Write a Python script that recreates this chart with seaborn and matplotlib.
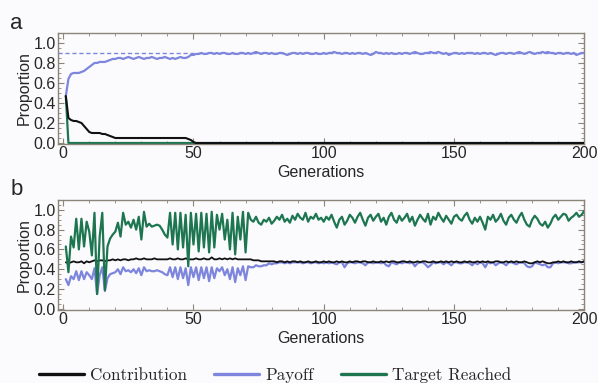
import numpy as np
import pandas as pd
import seaborn as sns
import matplotlib.pyplot as plt
from matplotlib.ticker import MultipleLocator

# colours
BG_COLOR = "#fbfbfd"
BLACK = "#111111"
BLUE = "#7d86dc"
GREEN = "#1d7650"
FRAME = "#8c8478"

generations = list(range(1, 201))

# panel a
contrib_a_gen = list(range(1, 52)) + [200]
contrib_a = [0.47, 0.25, 0.23, 0.22, 0.22, 0.21, 0.20, 0.17, 0.14, 0.11,
             0.10, 0.10, 0.10, 0.10, 0.09, 0.09, 0.08, 0.07, 0.06, 0.05,
             0.05, 0.05, 0.05, 0.05, 0.05, 0.05, 0.05, 0.05, 0.05, 0.05,
             0.05, 0.05, 0.05, 0.05, 0.05, 0.05, 0.05, 0.05, 0.05, 0.05,
             0.05, 0.05, 0.05, 0.05, 0.05, 0.05, 0.05, 0.04, 0.03, 0.01,
             0.0, 0.0]
target_a_gen = [1, 2, 200]
target_a = [0.47, 0.0, 0.0]
payoff_a = [0.47, 0.64, 0.69, 0.70, 0.70, 0.70, 0.71, 0.72, 0.74, 0.76,
            0.78, 0.80, 0.80, 0.81, 0.81, 0.81, 0.82, 0.83, 0.84, 0.84,
            0.85, 0.85, 0.84, 0.85, 0.86, 0.85, 0.84, 0.85, 0.86, 0.85,
            0.84, 0.85, 0.85, 0.86, 0.85, 0.84, 0.85, 0.85, 0.86, 0.85,
            0.84, 0.85, 0.84, 0.85, 0.86, 0.85, 0.85, 0.86, 0.88, 0.88,
            0.89, 0.89, 0.90, 0.89, 0.89, 0.90, 0.90, 0.89, 0.90, 0.89,
            0.90, 0.90, 0.89, 0.89, 0.90, 0.89, 0.89, 0.90, 0.90, 0.89,
            0.90, 0.89, 0.90, 0.91, 0.90, 0.89, 0.90, 0.90, 0.89, 0.90,
            0.89, 0.89, 0.90, 0.90, 0.89, 0.88, 0.89, 0.90, 0.90, 0.89,
            0.90, 0.89, 0.90, 0.90, 0.89, 0.89, 0.90, 0.89, 0.89, 0.90,
            0.89, 0.90, 0.90, 0.91, 0.90, 0.90, 0.89, 0.90, 0.90, 0.89,
            0.90, 0.89, 0.90, 0.90, 0.89, 0.90, 0.89, 0.88, 0.89, 0.91,
            0.90, 0.90, 0.89, 0.90, 0.89, 0.90, 0.89, 0.89, 0.90, 0.89,
            0.90, 0.90, 0.89, 0.90, 0.91, 0.90, 0.89, 0.89, 0.90, 0.90,
            0.91, 0.90, 0.90, 0.91, 0.90, 0.89, 0.90, 0.88, 0.89, 0.90,
            0.90, 0.89, 0.90, 0.89, 0.90, 0.90, 0.90, 0.89, 0.90, 0.89,
            0.90, 0.90, 0.89, 0.90, 0.89, 0.88, 0.89, 0.90, 0.90, 0.89,
            0.90, 0.90, 0.89, 0.90, 0.91, 0.90, 0.89, 0.90, 0.91, 0.90,
            0.89, 0.90, 0.90, 0.91, 0.90, 0.91, 0.90, 0.90, 0.89, 0.90,
            0.90, 0.89, 0.90, 0.90, 0.89, 0.90, 0.88, 0.89, 0.90, 0.90]
optimum_a = 0.9

# panel b
contrib_b = [0.47, 0.46, 0.47, 0.48, 0.47, 0.47, 0.48, 0.46, 0.48, 0.47,
             0.48, 0.49, 0.48, 0.49, 0.49, 0.48, 0.49, 0.49, 0.50, 0.49,
             0.50, 0.49, 0.50, 0.50, 0.49, 0.50, 0.50, 0.51, 0.50, 0.50,
             0.51, 0.50, 0.50, 0.50, 0.51, 0.50, 0.50, 0.50, 0.50, 0.50,
             0.51, 0.50, 0.50, 0.51, 0.50, 0.50, 0.51, 0.50, 0.50, 0.50,
             0.51, 0.50, 0.50, 0.51, 0.50, 0.50, 0.52, 0.50, 0.50, 0.51,
             0.50, 0.51, 0.50, 0.51, 0.50, 0.51, 0.50, 0.50, 0.50, 0.50,
             0.50, 0.50, 0.49, 0.49, 0.49, 0.48, 0.48, 0.48, 0.48, 0.48,
             0.48, 0.47, 0.48, 0.48, 0.47, 0.48, 0.47, 0.48, 0.48, 0.47,
             0.48, 0.47, 0.47, 0.48, 0.47, 0.47, 0.48, 0.47, 0.47, 0.48,
             0.47, 0.48, 0.47, 0.47, 0.48, 0.47, 0.48, 0.47, 0.47, 0.48,
             0.47, 0.48, 0.48, 0.47, 0.48, 0.48, 0.47, 0.47, 0.48, 0.47,
             0.47, 0.48, 0.47, 0.48, 0.47, 0.48, 0.48, 0.47, 0.47, 0.48,
             0.48, 0.47, 0.48, 0.47, 0.47, 0.48, 0.47, 0.48, 0.48, 0.47,
             0.47, 0.48, 0.47, 0.47, 0.48, 0.47, 0.48, 0.47, 0.48, 0.47,
             0.48, 0.47, 0.47, 0.48, 0.47, 0.48, 0.47, 0.47, 0.48, 0.47,
             0.48, 0.47, 0.48, 0.47, 0.47, 0.48, 0.48, 0.47, 0.47, 0.48,
             0.47, 0.48, 0.47, 0.48, 0.47, 0.47, 0.48, 0.47, 0.46, 0.46,
             0.47, 0.48, 0.47, 0.48, 0.47, 0.46, 0.46, 0.47, 0.47, 0.48,
             0.47, 0.48, 0.47, 0.47, 0.48, 0.47, 0.47, 0.48, 0.47, 0.48]
payoff_b = [0.30, 0.24, 0.33, 0.30, 0.38, 0.29, 0.38, 0.30, 0.37, 0.34,
            0.30, 0.41, 0.15, 0.34, 0.42, 0.18, 0.31, 0.35, 0.36, 0.37,
            0.40, 0.35, 0.42, 0.38, 0.39, 0.37, 0.40, 0.36, 0.41, 0.34,
            0.42, 0.38, 0.39, 0.38, 0.38, 0.39, 0.38, 0.37, 0.35, 0.34,
            0.42, 0.32, 0.42, 0.30, 0.42, 0.31, 0.41, 0.24, 0.42, 0.32,
            0.42, 0.29, 0.42, 0.31, 0.42, 0.28, 0.42, 0.31, 0.41, 0.38,
            0.42, 0.34, 0.40, 0.30, 0.42, 0.27, 0.41, 0.34, 0.43, 0.29,
            0.43, 0.42, 0.42, 0.44, 0.43, 0.43, 0.44, 0.44, 0.46, 0.45,
            0.46, 0.46, 0.47, 0.47, 0.46, 0.47, 0.46, 0.47, 0.47, 0.47,
            0.47, 0.46, 0.47, 0.47, 0.46, 0.47, 0.47, 0.46, 0.47, 0.46,
            0.47, 0.46, 0.47, 0.46, 0.45, 0.47, 0.47, 0.42, 0.46, 0.47,
            0.47, 0.46, 0.47, 0.47, 0.46, 0.44, 0.47, 0.47, 0.46, 0.47,
            0.47, 0.46, 0.47, 0.44, 0.43, 0.47, 0.46, 0.45, 0.47, 0.46,
            0.47, 0.47, 0.46, 0.47, 0.43, 0.46, 0.47, 0.47, 0.45, 0.42,
            0.44, 0.47, 0.46, 0.47, 0.47, 0.45, 0.47, 0.46, 0.44, 0.47,
            0.47, 0.46, 0.46, 0.47, 0.47, 0.46, 0.44, 0.47, 0.45, 0.47,
            0.46, 0.42, 0.47, 0.46, 0.47, 0.44, 0.46, 0.47, 0.46, 0.44,
            0.47, 0.47, 0.46, 0.45, 0.47, 0.47, 0.46, 0.43, 0.42, 0.43,
            0.47, 0.46, 0.45, 0.44, 0.45, 0.42, 0.42, 0.46, 0.47, 0.46,
            0.47, 0.47, 0.47, 0.46, 0.46, 0.47, 0.47, 0.47, 0.47, 0.48]
target_b = [0.63, 0.37, 0.73, 0.62, 0.91, 0.60, 0.91, 0.63, 0.88, 0.78,
            0.54, 0.97, 0.15, 0.73, 0.97, 0.19, 0.63, 0.71, 0.75, 0.78,
            0.87, 0.73, 0.97, 0.85, 0.88, 0.82, 0.90, 0.80, 0.93, 0.70,
            0.98, 0.83, 0.86, 0.83, 0.84, 0.85, 0.84, 0.80, 0.75, 0.72,
            0.97, 0.65, 0.97, 0.60, 0.97, 0.62, 0.95, 0.43, 0.97, 0.65,
            0.96, 0.58, 0.97, 0.62, 0.96, 0.57, 0.98, 0.62, 0.95, 0.80,
            0.96, 0.70, 0.90, 0.60, 0.97, 0.55, 0.93, 0.70, 0.98, 0.57,
            0.97, 0.90, 0.88, 0.93, 0.87, 0.85, 0.90, 0.88, 0.92, 0.86,
            0.89, 0.93, 0.90, 0.95, 0.88, 0.91, 0.87, 0.94, 0.90, 0.96,
            0.92, 0.90, 0.97, 0.88, 0.93, 0.91, 0.96, 0.90, 0.92, 0.88,
            0.93, 0.90, 0.95, 0.88, 0.82, 0.90, 0.93, 0.85, 0.89, 0.95,
            0.92, 0.87, 0.93, 0.97, 0.90, 0.84, 0.92, 0.95, 0.89, 0.93,
            0.96, 0.88, 0.92, 0.85, 0.93, 0.97, 0.90, 0.87, 0.94, 0.89,
            0.92, 0.96, 0.88, 0.93, 0.84, 0.90, 0.95, 0.91, 0.88, 0.96,
            0.85, 0.93, 0.90, 0.97, 0.92, 0.88, 0.94, 0.90, 0.86, 0.93,
            0.95, 0.91, 0.89, 0.94, 0.97, 0.90, 0.86, 0.92, 0.88, 0.93,
            0.87, 0.80, 0.93, 0.90, 0.95, 0.88, 0.91, 0.96, 0.89, 0.85,
            0.92, 0.95, 0.90, 0.87, 0.93, 0.97, 0.90, 0.85, 0.83, 0.90,
            0.94, 0.91, 0.86, 0.84, 0.88, 0.82, 0.86, 0.92, 0.95, 0.90,
            0.93, 0.96, 0.95, 0.89, 0.92, 0.94, 0.97, 0.93, 0.95, 0.99]

sns.set_style("ticks")
plt.rcParams['font.family'] = ['Liberation Sans', 'DejaVu Sans']
plt.rcParams['xtick.direction'] = 'in'
plt.rcParams['ytick.direction'] = 'in'

fig = plt.figure(figsize=(5.98, 3.83), dpi=100)
fig.patch.set_facecolor(BG_COLOR)
ax_a = fig.add_axes([0.097, 0.624, 0.880, 0.290])
ax_b = fig.add_axes([0.097, 0.191, 0.880, 0.287])


def style_axis(ax):
    ax.set_facecolor(BG_COLOR)
    ax.set_xlim(-2, 200)
    ax.set_ylim(-0.01, 1.1)
    ax.xaxis.set_major_locator(MultipleLocator(50))
    ax.xaxis.set_minor_locator(MultipleLocator(10))
    ax.yaxis.set_major_locator(MultipleLocator(0.2))
    ax.yaxis.set_minor_locator(MultipleLocator(0.05))
    ax.yaxis.set_major_formatter(plt.FormatStrFormatter('%.1f'))
    ax.tick_params(which='both', top=True, right=True, color=FRAME,
                   labelsize=11.5, pad=1.5)
    ax.tick_params(which='major', length=4, width=0.8)
    ax.tick_params(which='minor', length=2, width=0.6)
    for s in ax.spines.values():
        s.set_color(FRAME)
        s.set_linewidth(1.0)
    ax.set_xlabel("Generations", fontsize=11.5, labelpad=3)
    ax.set_ylabel("Proportion", fontsize=11.5, labelpad=1)


# panel a
ax_a.axhline(optimum_a, color=BLUE, lw=1.0, ls=(0, (3, 2)), zorder=1)
sns.lineplot(x=generations, y=payoff_a, color=BLUE, lw=1.6, ax=ax_a, zorder=3)
sns.lineplot(x=contrib_a_gen, y=contrib_a, color=BLACK, lw=1.5, ax=ax_a, zorder=4)
sns.lineplot(x=target_a_gen, y=target_a, color=GREEN, lw=1.6, ax=ax_a, zorder=2)
style_axis(ax_a)

# panel b
sns.lineplot(x=generations, y=payoff_b, color=BLUE, lw=1.6, ax=ax_b, zorder=2,
             label="Payoff")
sns.lineplot(x=generations, y=contrib_b, color=BLACK, lw=1.3, ax=ax_b, zorder=3,
             label="Contribution")
sns.lineplot(x=generations, y=target_b, color=GREEN, lw=1.6, ax=ax_b, zorder=4,
             label="Target Reached")
style_axis(ax_b)

handles, labels = ax_b.get_legend_handles_labels()
ax_b.get_legend().remove()
order = [1, 0, 2]
leg = fig.legend([handles[i] for i in order], [labels[i] for i in order],
                 loc='lower center', bbox_to_anchor=(0.46, -0.04), ncol=3,
                 frameon=False, handlelength=2.65, handletextpad=0.35,
                 columnspacing=1.6, prop={'family': 'cmr10', 'size': 12.3})
for line in leg.get_lines():
    line.set_linewidth(2.4)

fig.text(0.017, 0.925, "a", fontsize=16)
fig.text(0.017, 0.49, "b", fontsize=16)

fig.savefig("out.png", dpi=100, facecolor=BG_COLOR)
